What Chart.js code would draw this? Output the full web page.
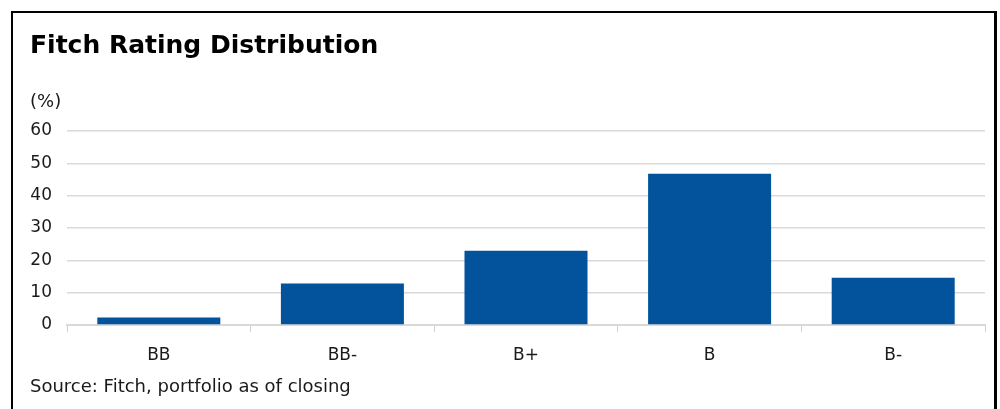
<!DOCTYPE html>
<html><head><meta charset="utf-8">
<script src="https://cdn.jsdelivr.net/npm/chart.js@4.4.1/dist/chart.umd.min.js"></script>
<style>
html,body{margin:0;padding:0;background:#fff;width:1000px;height:409px;overflow:hidden;}
#frame{position:absolute;left:11px;top:11px;width:981px;height:420px;border:2px solid #000;border-right-width:3px;}
#wrap{position:absolute;left:0;top:0;width:1000px;height:409px;}
.t{position:absolute;font-family:"DejaVu Sans",Verdana,sans-serif;color:#000;white-space:nowrap;}
#title{left:30px;top:30px;font-size:25px;font-weight:bold;}
#unit{left:30px;top:90px;font-size:18px;color:#1a1a1a;}
#src{left:30px;top:375px;font-size:18px;color:#1a1a1a;}
</style></head>
<body>
<div id="frame"></div>
<div id="wrap"><canvas id="c" width="1000" height="409"></canvas></div>
<div class="t" id="title">Fitch Rating Distribution</div>
<div class="t" id="unit">(%)</div>
<div class="t" id="src">Source: Fitch, portfolio as of closing</div>
<script>
const categories = ["BB", "BB-", "B+", "B", "B-"];
const shares = [2.3, 12.8, 23.0, 46.8, 14.6];
const yTicks = [0, 10, 20, 30, 40, 50, 60];

new Chart(document.getElementById('c'), {
  type: 'bar',
  data: {
    labels: categories,
    datasets: [{ data: shares, backgroundColor: '#02539C', borderWidth: 0,
      categoryPercentage: 1, barPercentage: 0.67 }]
  },
  options: {
    responsive: false, animation: false,
    layout: { padding: { left: 20, right: 15, top: 131, bottom: 0 } },
    plugins: { legend: { display: false }, tooltip: { enabled: false }, title: { display: false } },
    scales: {
      x: {
        offset: true,
        grid: { display: true, drawOnChartArea: false, drawTicks: true, tickLength: 7, color: '#d0d0d0', offset: true },
        border: { display: true, color: '#d9d9d9', width: 2 },
        ticks: { color: '#1a1a1a', font: { family: 'DejaVu Sans', size: 17 }, padding: 13 },
        afterFit: s => { s.height = 84; }
      },
      y: {
        min: 0, max: 60,
        afterBuildTicks: s => { s.ticks = yTicks.map(v => ({ value: v })); },
        grid: { color: '#d9d9d9', lineWidth: 1.5, drawTicks: false },
        border: { display: false },
        ticks: { color: '#1a1a1a', font: { family: 'DejaVu Sans', size: 17 }, padding: 15 },
        afterFit: s => { s.width = 47; }
      }
    }
  }
});
</script>
</body></html>
